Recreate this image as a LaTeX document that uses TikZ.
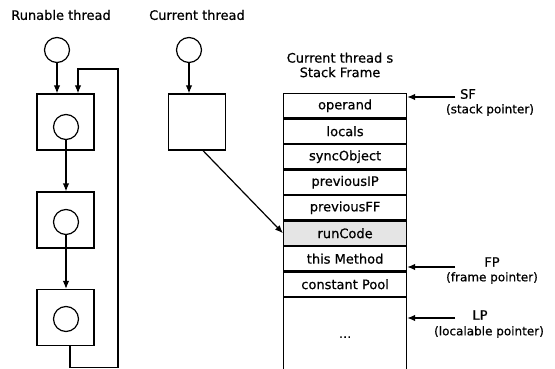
\documentclass[tikz,border=0pt]{standalone}
\usepackage{fontspec}
\setmainfont{DejaVu Sans}[FakeBold=0.6]
\usetikzlibrary{arrows.meta}
\begin{document}
\begin{tikzpicture}[
            x=1pt, y=-1pt, line width=1.2pt, >={Latex[length=8pt,width=6.5pt]},
            every node/.style={font=\fontsize{13}{14.5}\selectfont},
            ring/.style={circle, draw, minimum size=25pt, inner sep=0pt},
            thread/.style={rectangle, draw, minimum width=57pt, minimum height=56pt, inner sep=0pt},
            cell/.style={rectangle, draw, minimum width=123pt, minimum height=24.3pt, inner sep=0pt, anchor=north west},
            rest/.style={rectangle, draw, minimum width=123pt, minimum height=79pt, inner sep=0pt, anchor=north west},
            note/.style={align=center, inner sep=0pt},
            pnote/.style={align=center, inner sep=0pt, font=\fontsize{12}{14}\selectfont},
        ]
            \useasboundingbox (0,0) rectangle (555,369);
            \node[note](runlabel) at (61,15) {Runable thread};
            \node[note](curlabel) at (197,15) {Current thread};
            \node[note](framelabel) at (340,65) {Current thread s\\Stack Frame};
            % runable threads
            \node[ring](runhead) at (57,50) {};
            \node[thread](run1) at (65.5,122) {};
            \node[thread](run2) at (65.5,220) {};
            \node[thread](run3) at (65.5,317.5) {};
            \node[ring](ring1) at (66,127) {};
            \node[ring](ring2) at (66,222) {};
            \node[ring](ring3) at (66,319) {};
            \draw[->] (runhead) -- (runhead |- run1.north);
            \draw[->] (ring1) -- (ring1 |- run2.north);
            \draw[->] (ring2) -- (ring2 |- run3.north);
            \draw[->] ([xshift=4.5pt]run3.south) -- ++(0,21) -| (118,69) -| ([xshift=12.5pt]run1.north);
            % current thread
            \node[ring](curhead) at (189,50) {};
            \node[thread](cur) at (197,122) {};
            \draw[->] (curhead) -- (curhead |- cur.north);
            % stack frame
            \node[cell](operand) at (283,93) {operand};
            \node[cell](locals) at (operand.south west) {locals};
            \node[cell](syncobj) at (locals.south west) {syncObject};
            \node[cell](previp) at (syncobj.south west) {previousIP};
            \node[cell](prevff) at (previp.south west) {previousFF};
            \node[cell, fill=black!10](runcode) at (prevff.south west) {runCode};
            \node[cell](thismethod) at (runcode.south west) {this Method};
            \node[cell](constpool) at (thismethod.south west) {constant Pool};
            \node[rest](restnode) at (constpool.south west) {...};
            \draw[->] ([xshift=6pt]cur.south) -- (runcode.west);
            % pointers
            \node[note](sf) at (468,94) {SF};
            \node[pnote](sfnote) at (490,110) {(stack pointer)};
            \node[note](fp) at (492,262) {FP};
            \node[pnote](fpnote) at (492,278) {(frame pointer)};
            \node[note](lp) at (480,315) {LP};
            \node[pnote](lpnote) at (489,332) {(localable pointer)};
            \coordinate (sfptr) at (455,97);
            \coordinate (fpptr) at (455,267);
            \coordinate (lpptr) at (455,318);
            \draw[->] (sfptr) -- (sfptr -| operand.east);
            \draw[->] (fpptr) -- (fpptr -| constpool.east);
            \draw[->] (lpptr) -- (lpptr -| restnode.east);
        \end{tikzpicture}
\end{document}
